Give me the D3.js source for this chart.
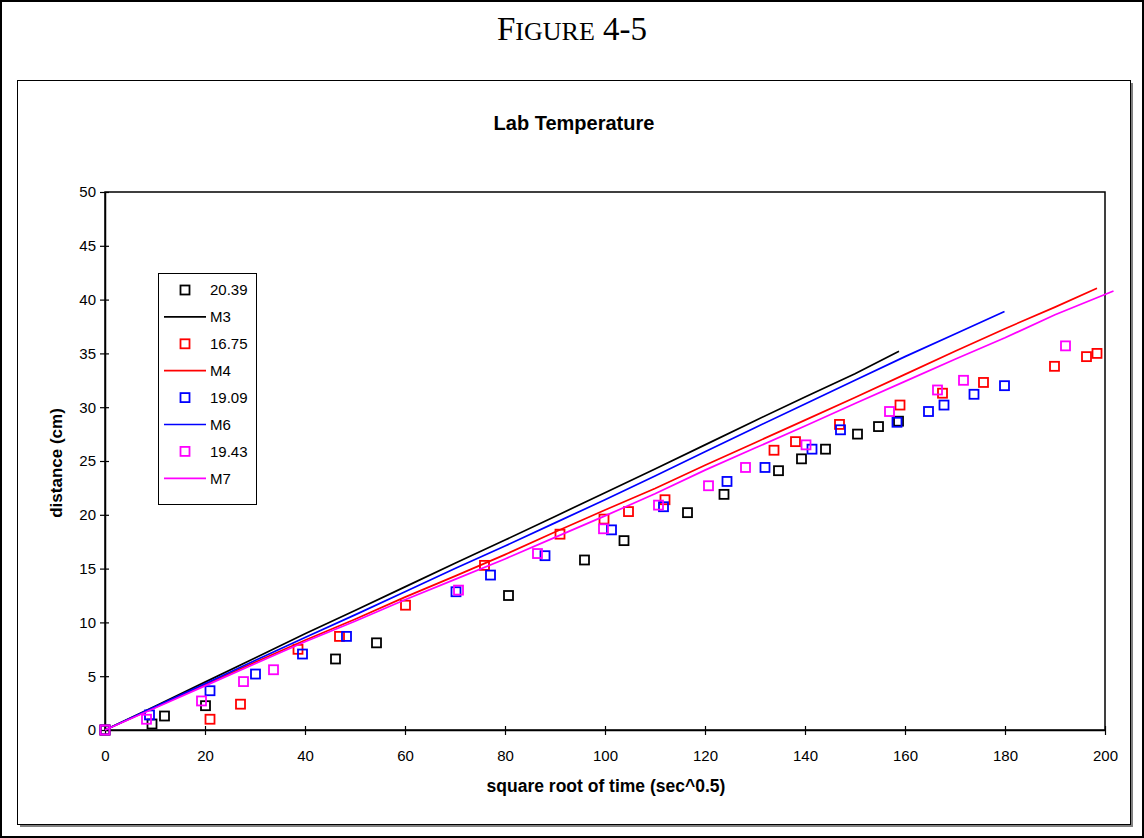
<!DOCTYPE html>
<html>
<head>
<meta charset="utf-8">
<script src="https://cdn.jsdelivr.net/npm/d3@7"></script>
<style>
  body { margin: 0; background: #fff; }
  svg { display: block; }
  text { font-family: Arial, "Liberation Sans", sans-serif; }
</style>
</head>
<body>
<svg id="canvas" width="1144" height="838"></svg>
<script>
var s2039X = [0, 9.4, 11.9, 20.1, 46.1, 54.3, 80.7, 95.9, 103.8, 116.5, 123.8, 134.7, 139.3, 144.1, 150.5, 154.7, 158.7];
var s2039Y = [0, 0.56, 1.3, 2.26, 6.6, 8.1, 12.5, 15.8, 17.6, 20.2, 21.9, 24.1, 25.2, 26.1, 27.5, 28.2, 28.7];

var s1675X = [0, 21, 27.1, 38.6, 46.9, 60.1, 75.9, 91, 99.8, 104.7, 112, 133.8, 138.1, 146.9, 159, 167.5, 175.7, 189.9, 196.3, 198.4];
var s1675Y = [0, 1.0, 2.4, 7.5, 8.7, 11.6, 15.3, 18.2, 19.6, 20.3, 21.4, 26.0, 26.8, 28.4, 30.2, 31.3, 32.3, 33.8, 34.7, 35.0];

var s1909X = [0, 8.9, 21, 30.1, 39.5, 48.3, 70.2, 77.1, 88, 101.3, 111.7, 124.4, 132, 141.4, 147.1, 158.4, 164.7, 167.8, 173.8, 179.9];
var s1909Y = [0, 1.4, 3.65, 5.2, 7.06, 8.7, 12.85, 14.4, 16.2, 18.6, 20.75, 23.1, 24.4, 26.1, 27.9, 28.6, 29.6, 30.2, 31.2, 32.0];

var s1943X = [0, 8.3, 19.3, 27.7, 33.7, 70.7, 86.5, 99.7, 110.7, 120.7, 128.1, 140.2, 156.9, 166.5, 171.7, 192.1];
var s1943Y = [0, 1.0, 2.7, 4.5, 5.6, 13.0, 16.4, 18.7, 20.9, 22.7, 24.4, 26.5, 29.6, 31.6, 32.5, 35.7];

// Model curves
var m3X = [0, 10, 20, 30, 40, 50, 60, 70, 80, 90, 100, 110, 120, 130, 140, 150, 158.8];
var m3Y = [0, 2.2, 4.45, 6.7, 8.95, 11.1, 13.3, 15.5, 17.65, 19.85, 22.05, 24.25, 26.5, 28.75, 30.95, 33.1, 35.2];

var m4X = [0, 10, 20, 30, 40, 50, 60, 70, 80, 90, 100, 110, 120, 130, 140, 150, 160, 170, 180, 190, 198.4];
var m4Y = [0, 2.1, 4.2, 6.3, 8.35, 10.3, 12.35, 14.3, 16.3, 18.4, 20.45, 22.45, 24.6, 26.7, 28.8, 30.9, 33.05, 35.2, 37.3, 39.3, 41.05];

var m6X = [0, 10, 20, 30, 40, 50, 60, 70, 80, 90, 100, 110, 120, 130, 140, 150, 160, 170, 179.9];
var m6Y = [0, 2.15, 4.3, 6.45, 8.6, 10.7, 12.85, 15.0, 17.1, 19.25, 21.4, 23.6, 25.85, 28.1, 30.3, 32.5, 34.7, 36.8, 38.9];

var m7X = [0, 10, 20, 30, 40, 50, 60, 70, 80, 90, 100, 110, 120, 130, 140, 150, 160, 170, 180, 190, 201.7];
var m7Y = [0, 2.05, 4.1, 6.15, 8.2, 10.1, 12.1, 14.0, 15.9, 17.9, 19.9, 21.95, 24.15, 26.2, 28.25, 30.35, 32.4, 34.45, 36.45, 38.6, 40.8];

var xTicks = [0, 20, 40, 60, 80, 100, 120, 140, 160, 180, 200];
var yTicks = [0, 5, 10, 15, 20, 25, 30, 35, 40, 45, 50];

// Series in Excel drawing order
var series = [
  { name: '20.39', type: 'marker', color: '#000000', xs: s2039X, ys: s2039Y },
  { name: 'M3', type: 'line', color: '#000000', xs: m3X, ys: m3Y },
  { name: '16.75', type: 'marker', color: '#ff0000', xs: s1675X, ys: s1675Y },
  { name: 'M4', type: 'line', color: '#ff0000', xs: m4X, ys: m4Y },
  { name: '19.09', type: 'marker', color: '#0000ff', xs: s1909X, ys: s1909Y },
  { name: 'M6', type: 'line', color: '#0000ff', xs: m6X, ys: m6Y },
  { name: '19.43', type: 'marker', color: '#ff00ff', xs: s1943X, ys: s1943Y },
  { name: 'M7', type: 'line', color: '#ff00ff', xs: m7X, ys: m7Y }
];

var canvas = d3.select('#canvas');

var plot = { left: 105, right: 1105, top: 192, bottom: 730 };

var x = d3.scaleLinear().domain([0, 200]).range([plot.left, plot.right]);
var y = d3.scaleLinear().domain([0, 50]).range([plot.bottom, plot.top]);

// Page border
canvas.append('rect')
  .attr('x', 1).attr('y', 1).attr('width', 1142).attr('height', 836)
  .attr('fill', '#fff').attr('stroke', '#000').attr('stroke-width', 2);

// Figure heading in small caps
var heading = canvas.append('text')
  .attr('x', 572).attr('y', 40)
  .attr('text-anchor', 'middle')
  .style('font-family', '"Times New Roman", "Liberation Serif", serif');
heading.append('tspan').attr('font-size', 33).text('F');
heading.append('tspan').attr('font-size', 26).text('IGURE');
heading.append('tspan').attr('font-size', 33).text(' 4-5');

// Chart area with shadow
canvas.append('rect')
  .attr('x', 20).attr('y', 83).attr('width', 1113).attr('height', 744)
  .attr('fill', '#808080');
canvas.append('rect')
  .attr('x', 17.5).attr('y', 80.5).attr('width', 1113).attr('height', 744)
  .attr('fill', '#fff').attr('stroke', '#000').attr('stroke-width', 1);

// Plot area border
canvas.append('rect')
  .attr('x', plot.left).attr('y', plot.top)
  .attr('width', plot.right - plot.left).attr('height', plot.bottom - plot.top)
  .attr('fill', 'none').attr('stroke', '#000').attr('stroke-width', 1.5);

// Axes, ticks cross the axis line
var xAxis = canvas.append('g')
  .attr('transform', 'translate(0,' + plot.bottom + ')')
  .call(d3.axisBottom(x).tickValues(xTicks).tickSizeInner(5).tickSizeOuter(0).tickPadding(15));
xAxis.selectAll('.tick line').attr('y1', -4);

var yAxis = canvas.append('g')
  .attr('transform', 'translate(' + plot.left + ',0)')
  .call(d3.axisLeft(y).tickValues(yTicks).tickSizeInner(5).tickSizeOuter(0).tickPadding(4));
yAxis.selectAll('.tick line').attr('x1', 4);

canvas.selectAll('.domain').attr('stroke', '#000').attr('stroke-width', 1.5);
canvas.selectAll('.tick line').attr('stroke', '#000').attr('stroke-width', 1.2);
canvas.selectAll('.tick text')
  .attr('fill', '#000')
  .style('font-size', '15px')
  .style('font-family', 'Arial, "Liberation Sans", sans-serif');

// Titles
canvas.append('text')
  .attr('x', 574).attr('y', 130)
  .attr('text-anchor', 'middle')
  .style('font-size', '20px').style('font-weight', 'bold')
  .text('Lab Temperature');

canvas.append('text')
  .attr('x', 606).attr('y', 792)
  .attr('text-anchor', 'middle')
  .style('font-size', '17.5px').style('font-weight', 'bold')
  .text('square root of time (sec^0.5)');

canvas.append('text')
  .attr('transform', 'translate(62,463) rotate(-90)')
  .attr('text-anchor', 'middle')
  .style('font-size', '17px').style('font-weight', 'bold')
  .text('distance (cm)');

var line = d3.line()
  .x(function (d) { return x(d[0]); })
  .y(function (d) { return y(d[1]); });

var markerSize = 9;

// Draw the series
series.forEach(function (s) {
  var pts = s.xs.map(function (v, i) { return [v, s.ys[i]]; });
  if (s.type === 'line') {
    canvas.append('path')
      .datum(pts)
      .attr('d', line)
      .attr('fill', 'none')
      .attr('stroke', s.color)
      .attr('stroke-width', 1.7);
  } else {
    canvas.append('g')
      .selectAll('rect')
      .data(pts)
      .enter()
      .append('rect')
      .attr('x', function (d) { return x(d[0]) - markerSize / 2; })
      .attr('y', function (d) { return y(d[1]) - markerSize / 2; })
      .attr('width', markerSize)
      .attr('height', markerSize)
      .attr('fill', 'none')
      .attr('stroke', s.color)
      .attr('stroke-width', 1.8);
  }
});

// Legend
var legend = canvas.append('g');
legend.append('rect')
  .attr('x', 158.5).attr('y', 273.5).attr('width', 98).attr('height', 231)
  .attr('fill', '#fff').attr('stroke', '#000').attr('stroke-width', 1);

series.forEach(function (s, i) {
  var ly = 290 + i * 26.9;
  if (s.type === 'line') {
    legend.append('line')
      .attr('x1', 164).attr('x2', 206)
      .attr('y1', ly).attr('y2', ly)
      .attr('stroke', s.color).attr('stroke-width', 1.7);
  } else {
    legend.append('rect')
      .attr('x', 185 - markerSize / 2).attr('y', ly - markerSize / 2)
      .attr('width', markerSize).attr('height', markerSize)
      .attr('fill', 'none').attr('stroke', s.color).attr('stroke-width', 1.8);
  }
  legend.append('text')
    .attr('x', 210).attr('y', ly)
    .attr('dy', '0.35em')
    .style('font-size', '15px')
    .text(s.name);
});
</script>
</body>
</html>
